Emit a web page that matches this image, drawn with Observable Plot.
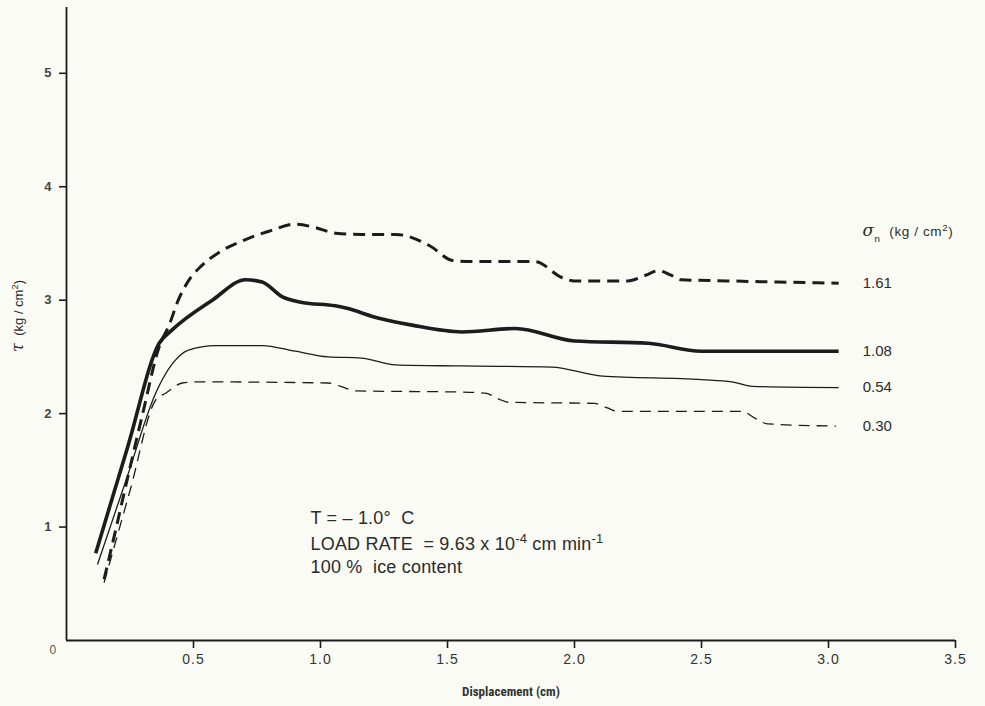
<!DOCTYPE html>
<html><head><meta charset="utf-8">
<script src="https://cdn.jsdelivr.net/npm/d3@7"></script>
<script src="https://cdn.jsdelivr.net/npm/@observablehq/plot@0.6"></script>
<style>
html,body{margin:0;padding:0;background:#fbfbf6;}
</style>
</head><body><div id="chart"></div>
<script>
// σn = 1.61 kg/cm² (thick dashed)
const disp161 = [0.148, 0.19, 0.233, 0.30, 0.365, 0.404, 0.44, 0.48, 0.53, 0.60, 0.70, 0.80, 0.90, 0.98, 1.06, 1.16, 1.295, 1.43, 1.52, 1.60, 1.845, 1.95, 2.0, 2.21, 2.28, 2.33, 2.38, 2.42, 2.6, 2.8, 3.04];
const tau161  = [0.54, 0.94, 1.36, 2.0, 2.59, 2.78, 3.0, 3.17, 3.30, 3.42, 3.53, 3.61, 3.67, 3.64, 3.59, 3.58, 3.58, 3.48, 3.35, 3.34, 3.34, 3.20, 3.17, 3.17, 3.22, 3.26, 3.22, 3.18, 3.17, 3.16, 3.15];
// σn = 1.08 (thick solid)
const disp108 = [0.115, 0.24, 0.365, 0.417, 0.574, 0.705, 0.77, 0.85, 0.928, 1.058, 1.10, 1.23, 1.36, 1.557, 1.767, 2.0, 2.29, 2.5, 3.04];
const tau108  = [0.77, 1.70, 2.62, 2.74, 3.0, 3.18, 3.16, 3.03, 2.98, 2.95, 2.93, 2.84, 2.78, 2.72, 2.75, 2.64, 2.62, 2.55, 2.55];
// σn = 0.54 (thin solid)
const disp054 = [0.122, 0.24, 0.351, 0.417, 0.48, 0.587, 0.77, 0.90, 1.03, 1.16, 1.295, 1.557, 1.91, 2.11, 2.5, 2.62, 2.70, 3.04];
const tau054  = [0.67, 1.45, 2.18, 2.44, 2.56, 2.60, 2.60, 2.55, 2.50, 2.49, 2.43, 2.42, 2.41, 2.33, 2.30, 2.28, 2.24, 2.23];
// σn = 0.30 (thin dashed)
const disp030 = [0.148, 0.25, 0.351, 0.39, 0.456, 0.508, 1.03, 1.08, 1.14, 1.557, 1.65, 1.70, 1.74, 2.08, 2.13, 2.17, 2.66, 2.71, 2.76, 3.03];
const tau030  = [0.51, 1.32, 2.12, 2.18, 2.27, 2.28, 2.27, 2.24, 2.20, 2.19, 2.18, 2.13, 2.10, 2.09, 2.05, 2.02, 2.02, 1.96, 1.91, 1.89];

const sigmaLabels = ["1.61", "1.08", "0.54", "0.30"];
const xTicks = [0.5, 1.0, 1.5, 2.0, 2.5, 3.0, 3.5];
const yTicks = [1, 2, 3, 4, 5];
const xTitle = "Displacement (cm)";
const yTitle = "~{τ}  (kg / cm^{2})";
const legendTitle = "~{σ}_{n}  (kg / cm^{2})";
const notes = ["T = – 1.0°  C", "LOAD RATE  = 9.63 x 10^{-4} cm min^{-1}", "100 %  ice content"];

const seriesData = [
  {label: sigmaLabels[0], disp: disp161, tau: tau161},
  {label: sigmaLabels[1], disp: disp108, tau: tau108},
  {label: sigmaLabels[2], disp: disp054, tau: tau054},
  {label: sigmaLabels[3], disp: disp030, tau: tau030}
];
const styles = {
  "1.61": {strokeWidth: 3, strokeDasharray: "12,7"},
  "1.08": {strokeWidth: 3.6, strokeDasharray: null},
  "0.54": {strokeWidth: 1.3, strokeDasharray: null},
  "0.30": {strokeWidth: 1.3, strokeDasharray: "11,7"}
};
const ink = "#1c1c1c";
const textInk = "#2b2b2b";
const font = "'Liberation Sans', Arial, Helvetica, sans-serif";
const narrow = "'Liberation Sans Narrow', 'Arial Narrow', 'Roboto Condensed', 'Liberation Sans', sans-serif";

const lineMarks = seriesData.map(s => {
  const rows = s.disp.map((x, i) => ({x, y: s.tau[i]}));
  const st = styles[s.label];
  const opts = {x: "x", y: "y", stroke: ink, strokeWidth: st.strokeWidth, curve: "monotone-x", strokeLinecap: "butt"};
  if (st.strokeDasharray) opts.strokeDasharray = st.strokeDasharray;
  return Plot.line(rows, opts);
});
const lastX = Math.max(...seriesData.map(s => s.disp[s.disp.length - 1]));
const ends = seriesData.map(s => ({label: s.label, x: lastX, y: s.tau[s.tau.length - 1]}));

const chart = Plot.plot({
  width: 985,
  height: 706,
  marginLeft: 66,
  marginRight: 30,
  marginTop: 7,
  marginBottom: 66,
  style: {background: "#fbfbf6", fontFamily: font, color: textInk},
  x: {domain: [0, 3.5]},
  y: {domain: [0, 5.58]},
  marks: [
    Plot.ruleY([0], {stroke: ink, strokeWidth: 1.8}),
    Plot.ruleX([0], {stroke: ink, strokeWidth: 1.8}),
    Plot.axisX({ticks: xTicks, tickFormat: d => d.toFixed(1), tickSize: 8, tickPadding: 6, fontSize: 14, fontFamily: font, label: null, stroke: ink, strokeWidth: 1.6, color: "#333"}),
    Plot.axisY({ticks: yTicks, tickFormat: d => String(d), tickSize: 7, tickPadding: 8, fontSize: 13, fontWeight: "bold", label: null, stroke: ink, strokeWidth: 1.6, color: "#444"}),
    Plot.text(["0"], {frameAnchor: "bottom-left", dx: -17, dy: 13, fontSize: 12, fill: "#555"}),
    ...lineMarks,
    Plot.text(ends, {x: "x", y: "y", text: "label", textAnchor: "start", dx: 24, fontSize: 15, fill: textInk}),
    Plot.text([legendTitle], {frameAnchor: "top-left", dx: 796, dy: 219, textAnchor: "start", fontSize: 13.5, fill: textInk}),
    Plot.text([notes[0]], {frameAnchor: "top-left", dx: 244, dy: 504, textAnchor: "start", fontSize: 18, fill: textInk}),
    Plot.text([notes[1]], {frameAnchor: "top-left", dx: 244, dy: 530, textAnchor: "start", fontSize: 18, fill: textInk}),
    Plot.text([notes[2]], {frameAnchor: "top-left", dx: 244, dy: 553, textAnchor: "start", fontSize: 18, fill: textInk}),
    Plot.text([xTitle], {frameAnchor: "bottom", dy: 55, fontSize: 13, fontWeight: "bold", fontFamily: narrow, fill: "#333"}),
    Plot.text([yTitle], {frameAnchor: "left", dx: -48, dy: -8, rotate: -90, textAnchor: "middle", fontSize: 13, fill: textInk})
  ]
});

// rich text: ^{..} superscript, _{..} subscript, ~{..} italic serif symbol
d3.select(chart).selectAll("text").each(function () {
  const t = this.textContent;
  if (!/[\^_~]\{/.test(t)) return;
  const sel = d3.select(this);
  sel.text(null);
  t.split(/([\^_~]\{[^}]*\})/).forEach(p => {
    if (!p) return;
    const m = p.match(/^([\^_~])\{(.*)\}$/);
    if (!m) { sel.append("tspan").text(p); return; }
    if (m[1] === "~") {
      sel.append("tspan").attr("font-style", "italic").attr("font-family", "'DejaVu Serif', serif").attr("font-size", "125%").text(m[2]);
    } else {
      sel.append("tspan").attr("baseline-shift", m[1] === "^" ? "super" : "sub").attr("font-size", "72%").text(m[2]);
    }
  });
});
d3.select(chart).selectAll("text").filter(function () { return /^(LOAD|T =|100)/.test(this.textContent); })
  .style("letter-spacing", "0.2px");
d3.select(chart).selectAll("text").filter(function () { return /^σ/.test(this.textContent); })
  .style("letter-spacing", "0.6px");
const xTickText = new Set(xTicks.map(d => d.toFixed(1)));
d3.select(chart).selectAll("text").filter(function () { return xTickText.has(this.textContent); })
  .style("letter-spacing", "1px");

document.getElementById("chart").appendChild(chart);
</script>
</body></html>
